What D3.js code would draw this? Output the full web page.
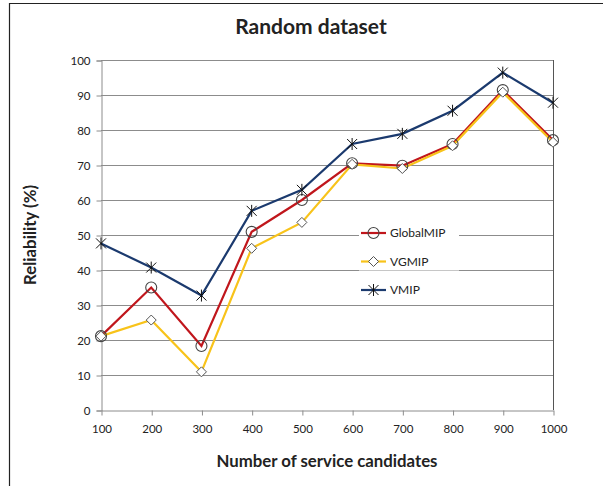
<!DOCTYPE html>
<html>
<head>
<meta charset="utf-8">
<script src="https://cdn.jsdelivr.net/npm/d3@7"></script>
<style>
  body { margin: 0; background: #fff; }
  svg text { font-family: Lato, "Open Sans", sans-serif; fill: #222; }
</style>
</head>
<body>
<svg id="chart" width="603" height="486"></svg>
<script>
// number of service candidates
var candidates = [100, 200, 300, 400, 500, 600, 700, 800, 900, 1000];
// reliability (%) per algorithm
var globalMIP = [21.1, 35.0, 18.3, 50.9, 60.0, 70.5, 69.8, 76.0, 91.4, 77.1];
var vgMIP     = [21.1, 25.7, 10.9, 46.2, 53.6, 70.2, 69.0, 75.5, 90.8, 76.5];
var vMIP      = [47.6, 40.7, 32.7, 56.9, 62.9, 76.0, 78.9, 85.5, 96.4, 87.8];
var yTicks = [0, 10, 20, 30, 40, 50, 60, 70, 80, 90, 100];

var series = [
  { name: 'GlobalMIP', values: globalMIP, color: '#c0161c', marker: 'circle' },
  { name: 'VGMIP', values: vgMIP, color: '#f8c31a', marker: 'diamond' },
  { name: 'VMIP', values: vMIP, color: '#1b3a6e', marker: 'star' }
];

var svg = d3.select('#chart');
var margin = { left: 101, right: 50, top: 60, bottom: 76 };
var W = 603, H = 486;

// outer frame (top and left only visible)
svg.append('path')
  .attr('d', 'M9.5,486V3.5H603')
  .attr('fill', 'none')
  .attr('stroke', '#222')
  .attr('stroke-width', 1.2);

var x = d3.scalePoint()
  .domain(candidates)
  .range([margin.left, W - margin.right])
  .padding(0);

var y = d3.scaleLinear()
  .domain([0, 100])
  .range([H - margin.bottom, margin.top]);

// gridlines
svg.append('g')
  .selectAll('line')
  .data(yTicks.slice(1))
  .join('line')
  .attr('x1', margin.left).attr('x2', W - margin.right)
  .attr('y1', function(d) { return Math.round(y(d)) + 0.5; })
  .attr('y2', function(d) { return Math.round(y(d)) + 0.5; })
  .attr('stroke', '#8c8c8c')
  .attr('stroke-width', 1);

// right edge of plot area
svg.append('line')
  .attr('x1', W - margin.right + 0.5).attr('x2', W - margin.right + 0.5)
  .attr('y1', margin.top).attr('y2', H - margin.bottom)
  .attr('stroke', '#555');

// y axis
var yAxis = svg.append('g')
  .attr('transform', 'translate(' + (margin.left + 0.5) + ',0.5)')
  .call(d3.axisLeft(y).tickValues(yTicks).tickSize(5).tickPadding(6));
yAxis.select('.domain').attr('stroke', '#8c8c8c');
yAxis.selectAll('.tick line').attr('stroke', '#8c8c8c');
yAxis.selectAll('.tick text').style('font-size', '11.5px').attr('fill', '#222');

// x axis
var xAxis = svg.append('g')
  .attr('transform', 'translate(0.5,' + (H - margin.bottom + 0.5) + ')')
  .call(d3.axisBottom(x).tickSize(5).tickSizeOuter(0).tickPadding(9));
xAxis.select('.domain').attr('stroke', '#8c8c8c');
xAxis.selectAll('.tick line').attr('stroke', '#8c8c8c');
xAxis.selectAll('.tick text').style('font-size', '11.5px').attr('fill', '#222');

var line = d3.line()
  .x(function(d, i) { return x(candidates[i]); })
  .y(function(d) { return y(d); });

function drawMarker(g, type) {
  if (type === 'circle') {
    g.append('circle').attr('r', 5.5)
      .attr('fill', 'none').attr('stroke', '#444').attr('stroke-width', 1.1);
  } else if (type === 'diamond') {
    g.append('path').attr('d', 'M0,-5L5,0L0,5L-5,0Z')
      .attr('fill', '#fff').attr('stroke', '#555').attr('stroke-width', 1);
  } else {
    g.append('path').attr('d', 'M-5,-5L5,5M-5,5L5,-5M0,-6V6')
      .attr('stroke', '#111').attr('stroke-width', 1);
  }
}

series.forEach(function(s) {
  svg.append('path')
    .datum(s.values)
    .attr('fill', 'none')
    .attr('stroke', s.color)
    .attr('stroke-width', 2.2)
    .attr('d', line);
});

series.forEach(function(s) {
  svg.append('g').selectAll('g')
    .data(s.values)
    .join('g')
    .attr('transform', function(d, i) { return 'translate(' + x(candidates[i]) + ',' + y(d) + ')'; })
    .each(function() { drawMarker(d3.select(this), s.marker); });
});

// legend
var legend = svg.append('g').attr('transform', 'translate(361,233)');
series.forEach(function(s, i) {
  var g = legend.append('g').attr('transform', 'translate(0,' + (i * 28.5) + ')');
  g.append('rect').attr('x', -2).attr('y', -9).attr('width', 100).attr('height', 18).attr('fill', '#fff');
  g.append('line').attr('x1', 0).attr('x2', 25)
    .attr('stroke', s.color).attr('stroke-width', 2.2);
  var m = g.append('g').attr('transform', 'translate(12.5,0)');
  drawMarker(m, s.marker);
  g.append('text').attr('x', 29).attr('y', 4)
    .style('font-size', '12px').text(s.name);
});

// titles
svg.append('text')
  .attr('x', 311).attr('y', 34)
  .attr('text-anchor', 'middle')
  .style('font-size', '21px').style('font-weight', 'bold')
  .text('Random dataset');

svg.append('text')
  .attr('x', 327).attr('y', 467)
  .attr('text-anchor', 'middle')
  .style('font-size', '16.8px').style('font-weight', 'bold')
  .text('Number of service candidates');

svg.append('text')
  .attr('transform', 'translate(36,235) rotate(-90)')
  .attr('text-anchor', 'middle')
  .style('font-size', '16.8px').style('font-weight', 'bold')
  .text('Reliability (%)');
</script>
</body>
</html>
